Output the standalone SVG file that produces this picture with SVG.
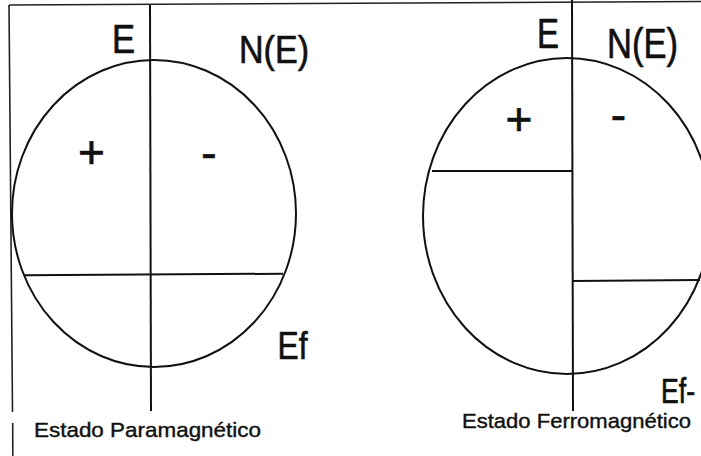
<svg xmlns="http://www.w3.org/2000/svg" width="701" height="456" viewBox="0 0 701 456">
<style>
.ln{stroke:#111;stroke-width:2;fill:none}
.fr{stroke:#222;stroke-width:1.6;fill:none}
.t{font-family:"Liberation Sans",Arial,sans-serif;fill:#111;stroke:#111;stroke-width:0.7}
.big{font-size:40px}
.sign{font-size:46px}
.cap{font-size:21px;stroke-width:0.4}
</style>
<rect width="701" height="456" fill="#fff"/>
<g id="frame">
<line class="fr" x1="9" y1="5" x2="701" y2="1.5"/>
<line class="fr" x1="9" y1="5" x2="12.5" y2="412"/>
<line class="fr" x1="12.7" y1="423" x2="12.8" y2="456"/>
</g>
<g id="paramagnetic">
<ellipse class="ln" cx="154" cy="213.5" rx="142" ry="153.5"/>
<line class="ln" x1="150" y1="5" x2="151" y2="411"/>
<line class="ln" x1="25" y1="275.3" x2="283" y2="273.7"/>
<text class="t big" x="112" y="53" textLength="23" lengthAdjust="spacingAndGlyphs">E</text>
<text class="t" style="font-size:39px" x="239" y="63" textLength="70" lengthAdjust="spacingAndGlyphs">N(E)</text>
<text class="t sign" x="91.5" y="168" text-anchor="middle">+</text>
<text class="t sign" x="209" y="169" text-anchor="middle">-</text>
<text class="t" style="font-size:39px" x="277.5" y="359" textLength="30" lengthAdjust="spacingAndGlyphs">Ef</text>
<text class="t cap" x="34" y="437" textLength="227" lengthAdjust="spacingAndGlyphs">Estado Paramagnético</text>
</g>
<g id="ferromagnetic">
<ellipse class="ln" cx="567" cy="216" rx="144" ry="158"/>
<line class="ln" x1="572" y1="0" x2="573" y2="411"/>
<line class="ln" x1="432" y1="171" x2="572" y2="171"/>
<line class="ln" x1="572" y1="281" x2="700" y2="280"/>
<text class="t" style="font-size:43px" x="537" y="48" textLength="22" lengthAdjust="spacingAndGlyphs">E</text>
<text class="t" style="font-size:43px" x="607" y="58" textLength="71" lengthAdjust="spacingAndGlyphs">N(E)</text>
<text class="t sign" x="519" y="135" text-anchor="middle">+</text>
<text class="t sign" x="618.5" y="131" text-anchor="middle">-</text>
<text class="t" style="font-size:35px" x="661" y="403" textLength="34" lengthAdjust="spacingAndGlyphs">Ef-</text>
<text class="t cap" x="462" y="428" textLength="229" lengthAdjust="spacingAndGlyphs">Estado Ferromagnético</text>
</g>
<g id="connectors"></g>
</svg>
